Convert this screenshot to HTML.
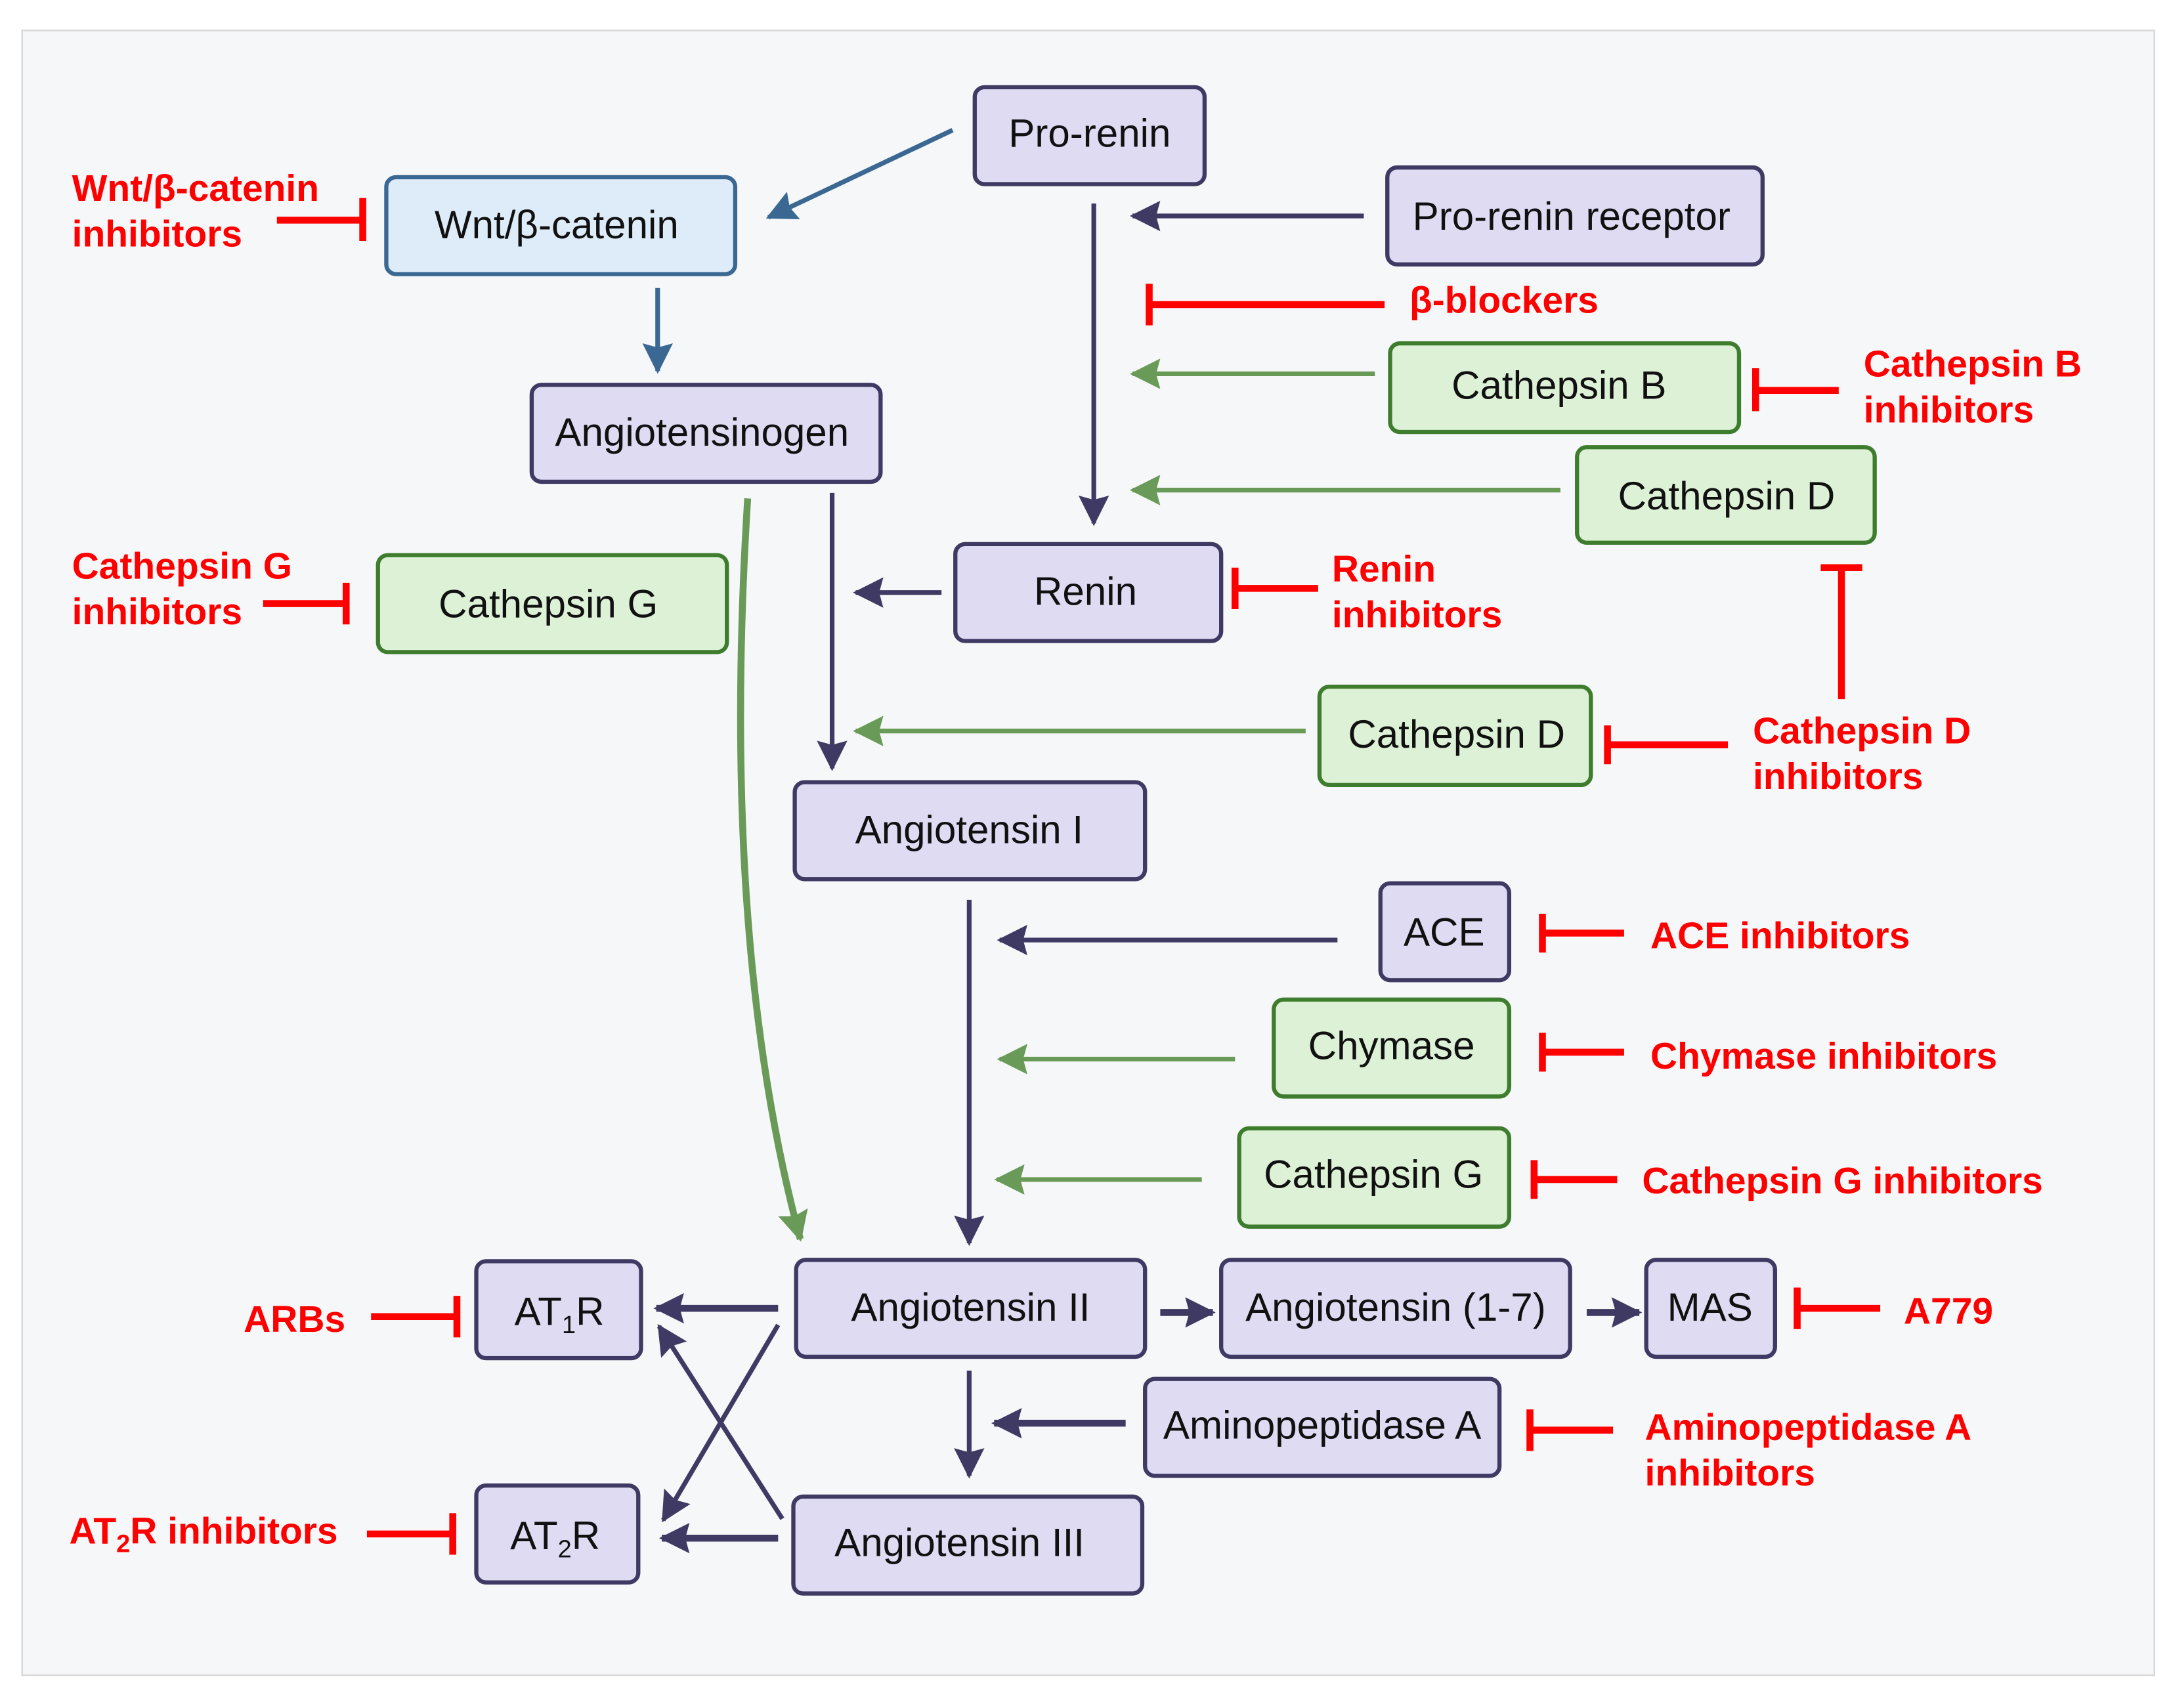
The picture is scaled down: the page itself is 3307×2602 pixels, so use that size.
<!DOCTYPE html>
<html><head><meta charset="utf-8"><style>
html,body{margin:0;padding:0;background:#fff;}
svg{display:block;}
.b{font-family:"Liberation Sans",sans-serif;font-size:28.5px;fill:#111;text-anchor:middle;}
.r{font-family:"Liberation Sans",sans-serif;font-size:27px;font-weight:bold;fill:#f00;}
.p{fill:#dedbf3;stroke:#3e3a63;stroke-width:3;}
.g{fill:#dcf1d6;stroke:#3f7d2e;stroke-width:3;}
.w{fill:#deebf8;stroke:#3a6892;stroke-width:3;}
.ad{stroke:#3e3a63;stroke-width:3.4;fill:none;marker-end:url(#md);}
.ag{stroke:#6a9a58;stroke-width:3.4;fill:none;marker-end:url(#mg);}
.ab{stroke:#3a6892;stroke-width:3.4;fill:none;marker-end:url(#mb);}
.in{stroke:#f00;stroke-width:5;fill:none;}
</style></head><body>
<svg width="3307" height="2602" viewBox="0 0 1568 1233.7" preserveAspectRatio="none">
<defs>
<marker id="md" markerUnits="userSpaceOnUse" markerWidth="24" markerHeight="24" refX="20" refY="12" orient="auto"><path d="M0,1 L22,12 L0,23 L3,12z" fill="#3e3a63"/></marker>
<marker id="mg" markerUnits="userSpaceOnUse" markerWidth="24" markerHeight="24" refX="20" refY="12" orient="auto"><path d="M0,1 L22,12 L0,23 L3,12z" fill="#6a9a58"/></marker>
<marker id="mb" markerUnits="userSpaceOnUse" markerWidth="24" markerHeight="24" refX="20" refY="12" orient="auto"><path d="M0,1 L22,12 L0,23 L3,12z" fill="#3a6892"/></marker>
</defs>
<rect x="16" y="22" width="1540" height="1188" fill="#f6f7f9" stroke="#d8d8d8" stroke-width="1.2"/>

<rect class="p" x="704" y="63" width="166" height="70" rx="7"/><text class="b" x="787" y="106">Pro-renin</text>
<rect class="w" x="279" y="128" width="252" height="70" rx="7"/><text class="b" x="402" y="172">Wnt/β-catenin</text>
<rect class="p" x="1002" y="121" width="271" height="70" rx="7"/><text class="b" x="1135" y="166">Pro-renin receptor</text>
<rect class="g" x="1004" y="248" width="252" height="64" rx="7"/><text class="b" x="1126" y="288">Cathepsin B</text>
<rect class="g" x="1139" y="323" width="215" height="69" rx="7"/><text class="b" x="1247" y="368">Cathepsin D</text>
<rect class="p" x="384" y="278" width="252" height="70" rx="7"/><text class="b" x="507" y="322">Angiotensinogen</text>
<rect class="g" x="273" y="401" width="252" height="70" rx="7"/><text class="b" x="396" y="446">Cathepsin G</text>
<rect class="p" x="690" y="393" width="192" height="70" rx="7"/><text class="b" x="784" y="437">Renin</text>
<rect class="g" x="953" y="496" width="196" height="71" rx="7"/><text class="b" x="1052" y="540">Cathepsin D</text>
<rect class="p" x="574" y="565" width="253" height="70" rx="7"/><text class="b" x="700" y="609">Angiotensin I</text>
<rect class="p" x="997" y="638" width="93" height="70" rx="7"/><text class="b" x="1043" y="683">ACE</text>
<rect class="g" x="920" y="722" width="170" height="70" rx="7"/><text class="b" x="1005" y="765">Chymase</text>
<rect class="g" x="895" y="815" width="195" height="71" rx="7"/><text class="b" x="992" y="858">Cathepsin G</text>
<rect class="p" x="575" y="910" width="252" height="70" rx="7"/><text class="b" x="701" y="954">Angiotensin II</text>
<rect class="p" x="882" y="910" width="252" height="70" rx="7"/><text class="b" x="1008" y="954">Angiotensin (1-7)</text>
<rect class="p" x="1189" y="910" width="93" height="70" rx="7"/><text class="b" x="1235" y="954">MAS</text>
<rect class="p" x="344" y="911" width="119" height="70" rx="7"/><text class="b" x="404" y="957">AT<tspan font-size="18" dy="6">1</tspan><tspan dy="-6">R</tspan></text>
<rect class="p" x="827" y="996" width="256" height="70" rx="7"/><text class="b" x="955" y="1039">Aminopeptidase A</text>
<rect class="p" x="344" y="1073" width="117" height="70" rx="7"/><text class="b" x="401" y="1119">AT<tspan font-size="18" dy="6">2</tspan><tspan dy="-6">R</tspan></text>
<rect class="p" x="573" y="1081" width="252" height="70" rx="7"/><text class="b" x="693" y="1124">Angiotensin III</text>

<line class="ab" x1="688" y1="94" x2="555" y2="157"/>
<line class="ab" x1="475" y1="208" x2="475" y2="268"/>
<line class="ad" x1="790" y1="147" x2="790" y2="378"/>
<line class="ad" x1="985" y1="156" x2="818" y2="156"/>
<line class="ag" x1="993" y1="270" x2="818" y2="270"/>
<line class="ag" x1="1127" y1="354" x2="818" y2="354"/>
<line class="ad" x1="680" y1="428" x2="618" y2="428"/>
<line class="ad" x1="601" y1="356" x2="601" y2="555"/>
<line class="ag" x1="943" y1="528" x2="618" y2="528"/>
<path class="ag" d="M540,360 Q520,680 578,895" style="stroke-width:5"/>
<line class="ad" x1="700" y1="650" x2="700" y2="898"/>
<line class="ad" x1="966" y1="679" x2="722" y2="679"/>
<line class="ag" x1="892" y1="765" x2="722" y2="765"/>
<line class="ag" x1="868" y1="852" x2="720" y2="852"/>
<line class="ad" x1="838" y1="948" x2="876" y2="948" style="stroke-width:5"/>
<line class="ad" x1="1146" y1="948" x2="1184" y2="948" style="stroke-width:5"/>
<line class="ad" x1="562" y1="945" x2="474" y2="945" style="stroke-width:5"/>
<line class="ad" x1="562" y1="957" x2="479" y2="1098"/>
<line class="ad" x1="565" y1="1097" x2="476" y2="958"/>
<line class="ad" x1="562" y1="1111" x2="478" y2="1111" style="stroke-width:5"/>
<line class="ad" x1="700" y1="990" x2="700" y2="1066"/>
<line class="ad" x1="813" y1="1028" x2="718" y2="1028" style="stroke-width:5"/>

<path class="in" d="M200,159 H262 M262,143 V174"/>
<path class="in" d="M1000,220 H830 M830,205 V235"/>
<path class="in" d="M1328,282 H1268 M1268,266 V297"/>
<path class="in" d="M1330,505 V410 M1315,410 H1345"/>
<path class="in" d="M190,436 H250 M250,421 V451"/>
<path class="in" d="M952,425 H892 M892,410 V440"/>
<path class="in" d="M1248,538 H1161 M1161,524 V552"/>
<path class="in" d="M1173,674 H1114 M1114,660 V688"/>
<path class="in" d="M1173,760 H1114 M1114,746 V774"/>
<path class="in" d="M1168,852 H1108 M1108,838 V866"/>
<path class="in" d="M1358,945 H1298 M1298,930 V960"/>
<path class="in" d="M1165,1033 H1105 M1105,1018 V1048"/>
<path class="in" d="M268,951 H330 M330,936 V966"/>
<path class="in" d="M265,1108 H327 M327,1093 V1123"/>

<text class="r" x="52" y="145">Wnt/β-catenin</text><text class="r" x="52" y="178">inhibitors</text>
<text class="r" x="1018" y="226">β-blockers</text>
<text class="r" x="1346" y="272">Cathepsin B</text><text class="r" x="1346" y="305">inhibitors</text>
<text class="r" x="52" y="418">Cathepsin G</text><text class="r" x="52" y="451">inhibitors</text>
<text class="r" x="962" y="420">Renin</text><text class="r" x="962" y="453">inhibitors</text>
<text class="r" x="1266" y="537">Cathepsin D</text><text class="r" x="1266" y="570">inhibitors</text>
<text class="r" x="1192" y="685">ACE inhibitors</text>
<text class="r" x="1192" y="772">Chymase inhibitors</text>
<text class="r" x="1186" y="862">Cathepsin G inhibitors</text>
<text class="r" x="1375" y="956">A779</text>
<text class="r" x="1188" y="1040">Aminopeptidase A</text><text class="r" x="1188" y="1073">inhibitors</text>
<text class="r" x="176" y="962">ARBs</text>
<text class="r" x="50" y="1115">AT<tspan font-size="18" dy="6">2</tspan><tspan dy="-6">R inhibitors</tspan></text>
</svg>
</body></html>
